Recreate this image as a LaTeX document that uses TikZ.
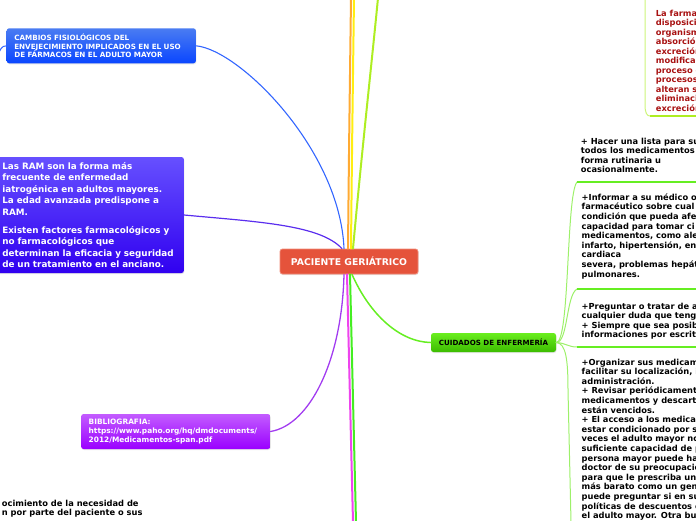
\documentclass[tikz,border=0pt]{standalone}
\usepackage{fontspec}
\setmainfont{DejaVu Sans}
\usetikzlibrary{shadows}
\definecolor{cenred}{HTML}{E5533B}
\definecolor{cenedge}{HTML}{F08A78}
\definecolor{blueT}{HTML}{4A7CF2}
\definecolor{blueB}{HTML}{0A46FF}
\definecolor{ramT}{HTML}{6650FF}
\definecolor{ramB}{HTML}{3000F0}
\definecolor{bibT}{HTML}{C35CFF}
\definecolor{bibB}{HTML}{9A00FF}
\definecolor{cuT}{HTML}{6AEE1E}
\definecolor{cuB}{HTML}{3CBC00}
\definecolor{redtxt}{HTML}{A81212}
\definecolor{lnBlue}{HTML}{3366FF}
\definecolor{lnIndigo}{HTML}{5A2EEE}
\definecolor{lnPurple}{HTML}{A23CF0}
\definecolor{lnGreen}{HTML}{66EE22}
\definecolor{lnLime}{HTML}{AEEE22}
\definecolor{lnOrange}{HTML}{FFAA33}
\definecolor{lnYellow}{HTML}{FFEE11}
\definecolor{lnMagenta}{HTML}{EE44EE}
\definecolor{lnGreenB}{HTML}{44EE22}
\definecolor{lnLight}{HTML}{9DF06A}
\definecolor{lnLimeLight}{HTML}{CCF57A}
\newcommand{\firststrut}{\rule{0pt}{7.2pt}}
\begin{document}
\begin{tikzpicture}[x=1pt,y=-1pt,
  mainbox/.style={rounded corners=2.5pt, text=white, align=left, inner ysep=0pt,
    drop shadow={opacity=0.2,shadow xshift=0.5pt,shadow yshift=-1pt}},
  txtblock/.style={anchor=north west, inner sep=0pt, align=left,
    font=\fontsize{8.3}{9.6}\selectfont\bfseries},
  conn/.style={line cap=round},
  uline/.style={line width=2.2pt, color=lnGreen},
]
\useasboundingbox (0,0) rectangle (696,520);
\clip (0,0) rectangle (696,520);

% coordinates for free ends
\coordinate (oTop) at (351,-2);
\coordinate (yTop) at (354,-2);
\coordinate (lTop) at (378,-2);
\coordinate (mBot) at (353,522);
\coordinate (gBot) at (356,522);
\coordinate (leftStub) at (-3,56);
\coordinate (u1a) at (577,182);
\coordinate (u1b) at (698,182);
\coordinate (u2a) at (577,289);
\coordinate (u2b) at (698,289);
\coordinate (u3a) at (577,347);
\coordinate (u3b) at (698,347);
\coordinate (b4end) at (571,522);
\coordinate (rTop) at (645,-2);
\coordinate (r1) at (650,116);
\coordinate (r2) at (698,116);

% nodes
\node[mainbox, top color=blueT, bottom color=blueB, text width=174pt, inner xsep=7.6pt,
  minimum height=35pt, font=\fontsize{7.2}{8.7}\selectfont\bfseries] (blue) at (101.3,45.8)
  {CAMBIOS FISIOLÓGICOS DEL\\ENVEJECIMIENTO IMPLICADOS EN EL USO\\DE FÁRMACOS EN EL ADULTO MAYOR};

\node[mainbox, top color=ramT, bottom color=ramB, text width=174pt, inner xsep=7.6pt,
  minimum height=116pt, font=\fontsize{8.8}{11.5}\selectfont\bfseries] (ram) at (89.3,215)
  {Las RAM son la forma más\\frecuente de enfermedad\\iatrogénica en adultos mayores.\\La edad avanzada predispone a\\RAM.\\[6.6pt]Existen factores farmacológicos y\\no farmacológicos que\\determinan la eficacia y seguridad\\de un tratamiento en el anciano.};

\node[mainbox, top color=bibT, bottom color=bibB, text width=174pt, inner xsep=7.6pt,
  minimum height=35pt, font=\fontsize{7.4}{9.2}\selectfont\bfseries] (bib) at (175.7,431.5)
  {BIBLIOGRAFIA:\\https://www.paho.org/hq/dmdocuments/\\2012/Medicamentos-span.pdf};

\node[mainbox, fill=cenred, draw=cenedge, line width=0.8pt, minimum width=138pt, minimum height=25pt,
  align=center, font=\fontsize{9.3}{11}\selectfont\bfseries] (cen) at (349,261.5) {PACIENTE GERIÁTRICO};

\node[mainbox, top color=cuT, bottom color=cuB, text=black, minimum width=125pt, minimum height=19pt,
  align=center, font=\fontsize{7.1}{8.5}\selectfont\bfseries] (cu) at (493.5,342.5) {CUIDADOS DE ENFERMERÍA};

\node[txtblock] (b1) at (580.7,136.6) {\firststrut+ Hacer una lista para su\\todos los medicamentos\\forma rutinaria u\\ocasionalmente.};
\node[txtblock] (b2) at (581.5,192.9) {\firststrut+Informar a su médico o\\farmacéutico sobre cual\\condición que pueda afe\\capacidad para tomar ci\\medicamentos, como ale\\infarto, hipertensión, en\\cardiaca\\severa, problemas hepát\\pulmonares.};
\node[txtblock] (b3) at (581.5,301.6) {\firststrut+Preguntar o tratar de a\\cualquier duda que teng\\+ Siempre que sea posib\\informaciones por escrit};
\node[txtblock] (b4) at (581.5,357.6) {\firststrut+Organizar sus medicame\\facilitar su localización, id\\administración.\\+ Revisar periódicamente\\medicamentos y descartar\\están vencidos.\\+ El acceso a los medicam\\estar condicionado por su\\veces el adulto mayor no\\suficiente capacidad de pa\\persona mayor puede hab\\doctor de su preocupación\\para que le prescriba un m\\más barato como un genér\\puede preguntar si en su\\políticas de descuentos es\\el adulto mayor. Otra bue};
\node[txtblock, text=redtxt, font=\fontsize{8.3}{9.5}\selectfont\bfseries] (rt) at (655.7,8.9) {\firststrut La farmac\\disposició\\organism\\absorción\\excreción\\modifica\\proceso d\\procesos\\alteran se\\eliminaci\\excreción};
\node[txtblock] (bl) at (1.7,498.8) {\firststrut ocimiento de la necesidad de\\n por parte del paciente o sus};

% connectors from centre
\draw[conn, lnOrange, line width=2pt] ([xshift=-1pt]cen.north) .. controls (349,150) .. (oTop);
\draw[conn, lnYellow, line width=2pt] ([xshift=2pt]cen.north) .. controls (352,150) .. (yTop);
\draw[conn, lnLime, line width=2pt] ([xshift=4pt]cen.north) .. controls (362,150) and (372,60) .. (lTop);
\draw[conn, lnBlue, line width=1.1pt] (blue.east) .. controls (240,50) and (340,150) .. ([xshift=-5pt]cen.north);
\draw[conn, lnIndigo, line width=1.2pt] (ram.east) .. controls (260,222) and (320,225) .. ([xshift=-7pt]cen.north);
\draw[conn, lnBlue, line width=1pt] (blue.west) .. controls (1,46) and (1,49) .. (leftStub);
\draw[conn, lnPurple, line width=1.3pt] (bib.east) .. controls (310,425) and (342,360) .. ([xshift=-5pt]cen.south);
\draw[conn, lnMagenta, line width=2pt] ([xshift=-2pt]cen.south) .. controls (350,400) .. (mBot);
\draw[conn, lnGreenB, line width=2pt] ([xshift=1pt]cen.south) .. controls (353,400) .. (gBot);
\draw[conn, lnGreen, line width=1.5pt] ([xshift=3pt]cen.south) .. controls (370,315) and (400,342) .. (cu.west);

% right fan
\draw[conn, lnLight, line width=1pt] (cu.east) .. controls (570,343) and (566,195) .. (u1a);
\draw[conn, lnLight, line width=1pt] (cu.east) .. controls (568,343) and (566,295) .. (u2a);
\draw[conn, lnLight, line width=1pt] (cu.east) .. controls (566,343) and (568,347) .. (u3a);
\draw[conn, lnLight, line width=1pt] (cu.east) .. controls (566,343) and (568,360) .. (568,390) -- (b4end);
\draw[uline] (u1a) -- (u1b);
\draw[uline] (u2a) -- (u2b);
\draw[uline] (u3a) -- (u3b);

% red block connector
\draw[conn, lnLimeLight, line width=1pt] (rTop) -- (645,105) .. controls (645,113) and (647,116) .. (r1);
\draw[line width=2.2pt, color=lnLime] (r1) -- (r2);
\end{tikzpicture}
\end{document}
